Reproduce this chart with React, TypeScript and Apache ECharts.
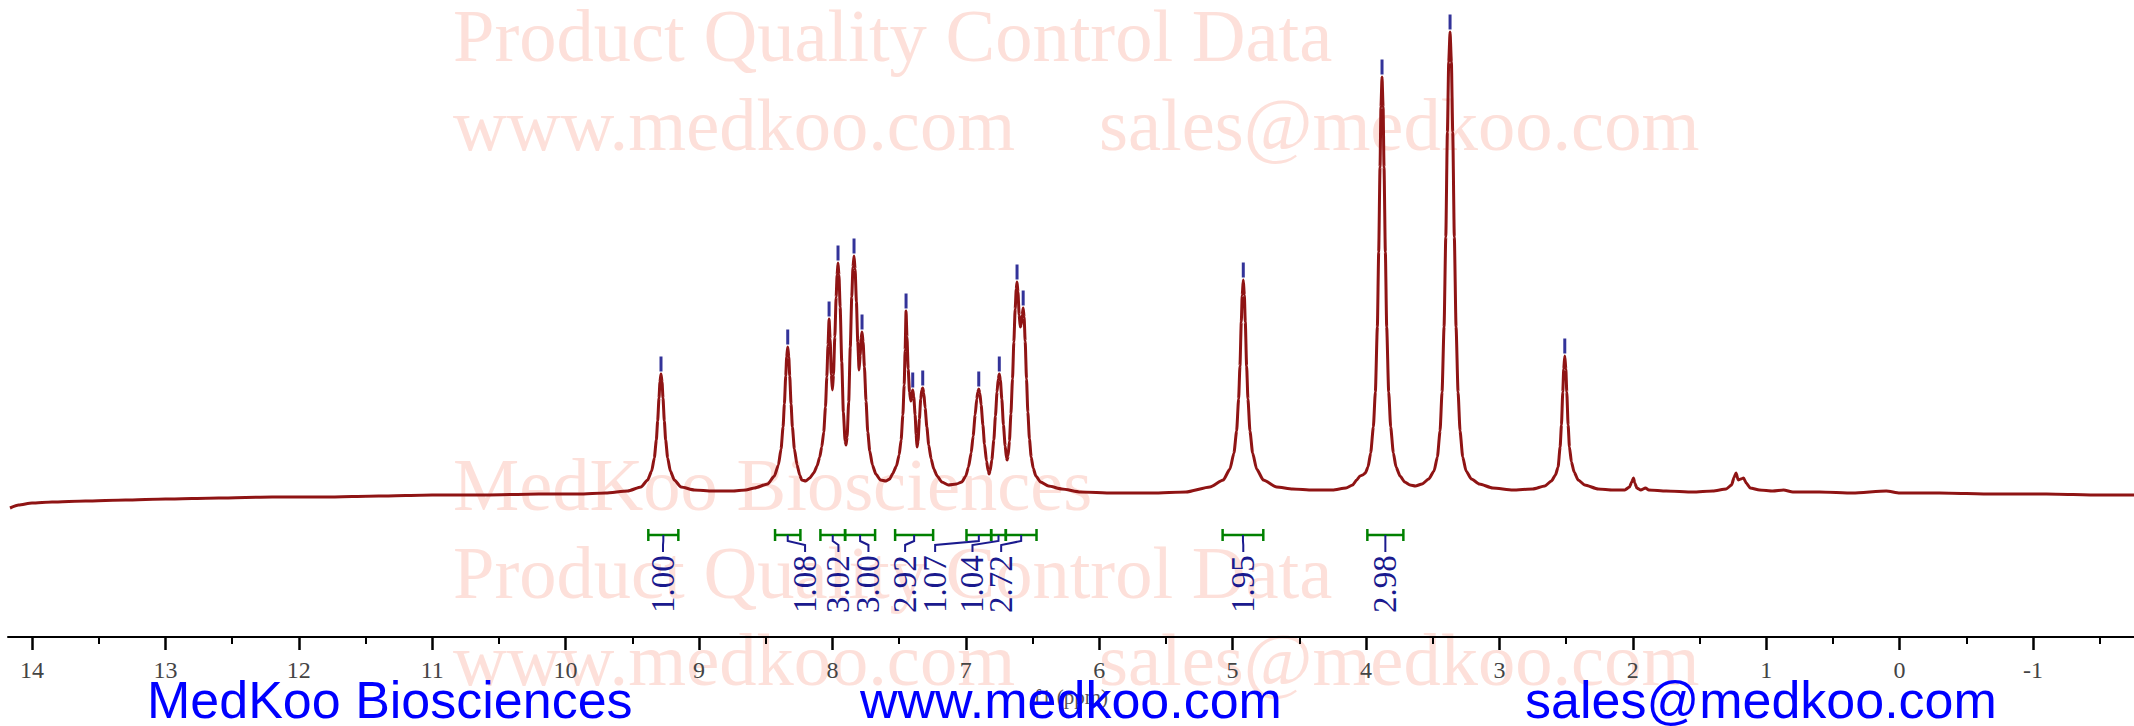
import React, { useEffect, useRef } from "react";
import * as echarts from "echarts";

// ---------- data (ppm, intensity) ----------
const baselineLeft: [number, number][] = [
  [14.165, 129], [14.1, 132], [14.0, 134], [13.85, 135], [13.6, 136], [13.3, 137], [13.0, 138],
  [12.6, 139], [12.2, 140], [11.8, 140], [11.4, 141], [11.0, 142], [10.6, 142], [10.2, 143],
  [9.9, 143], [9.7, 144], [9.535, 146],
];
const peak928: [number, number][] = [
  [9.435, 150], [9.385, 157], [9.355, 166], [9.335, 179], [9.32, 197], [9.31, 216], [9.3, 239],
  [9.293, 255], [9.285, 263], [9.277, 255], [9.27, 239], [9.26, 216], [9.25, 197], [9.235, 179],
  [9.215, 166], [9.185, 157], [9.135, 150], [9.035, 147], [8.9, 146], [8.75, 146], [8.65, 147],
];
const aromaticA: [number, number][] = [
  [8.585, 149], [8.485, 153], [8.435, 161], [8.405, 172], [8.385, 188], [8.37, 210], [8.36, 233],
  [8.35, 261], [8.343, 280], [8.335, 290], [8.327, 280], [8.32, 261], [8.31, 233], [8.3, 210],
  [8.285, 188], [8.265, 172], [8.245, 162], [8.23, 157], [8.2, 156], [8.17, 159], [8.14, 164],
  [8.115, 171], [8.095, 180], [8.08, 190], [8.065, 205], [8.052, 230], [8.042, 260], [8.033, 292],
  [8.025, 318], [8.017, 298], [8.008, 262], [8.0, 247], [7.992, 262], [7.982, 300], [7.972, 340],
  [7.965, 362], [7.958, 374], [7.951, 362], [7.942, 330], [7.93, 275], [7.918, 225], [7.905, 196],
  [7.898, 192], [7.89, 200], [7.878, 235], [7.866, 290], [7.855, 340], [7.846, 370], [7.838, 381],
  [7.83, 368], [7.82, 335], [7.81, 295], [7.8, 267], [7.792, 282], [7.785, 298], [7.778, 305],
  [7.77, 295], [7.76, 270], [7.748, 236], [7.735, 205], [7.72, 186], [7.7, 172], [7.675, 163],
  [7.64, 157], [7.6, 156], [7.57, 158],
];
const aromaticB: [number, number][] = [
  [7.55, 163], [7.52, 171], [7.5, 182], [7.485, 197], [7.472, 222], [7.462, 252], [7.455, 287],
  [7.448, 326], [7.441, 300], [7.432, 268], [7.422, 245], [7.412, 236], [7.405, 242], [7.398, 247],
  [7.39, 240], [7.38, 222], [7.372, 202], [7.366, 190], [7.358, 196], [7.348, 218], [7.338, 238],
  [7.33, 247], [7.323, 249], [7.315, 244], [7.305, 229], [7.292, 210], [7.278, 192], [7.26, 178],
  [7.24, 168], [7.215, 161], [7.18, 155], [7.13, 152], [7.07, 153],
];
const aromaticC: [number, number][] = [
  [7.03, 155], [7.0, 161], [6.98, 170], [6.96, 184], [6.945, 201], [6.93, 222], [6.918, 238],
  [6.91, 245], [6.903, 248], [6.895, 244], [6.885, 232], [6.872, 212], [6.86, 193], [6.845, 176],
  [6.832, 166], [6.826, 163], [6.818, 166], [6.805, 177], [6.79, 197], [6.778, 221], [6.766, 245],
  [6.757, 258], [6.749, 263], [6.741, 257], [6.73, 238], [6.718, 212], [6.705, 191], [6.695, 179],
  [6.69, 177], [6.683, 181], [6.673, 196], [6.662, 223], [6.65, 258], [6.64, 295], [6.63, 328],
  [6.622, 348], [6.616, 355], [6.609, 345], [6.6, 322], [6.592, 310], [6.585, 312], [6.577, 322],
  [6.57, 329], [6.563, 320], [6.555, 296], [6.545, 258], [6.535, 225], [6.523, 198], [6.51, 180],
  [6.495, 169], [6.475, 161], [6.44, 155], [6.38, 151], [6.28, 148], [6.14, 145], [5.9, 144],
  [5.6, 144], [5.35, 145],
];
const aliphatic: [number, number][] = [
  [5.17, 150], [5.07, 157], [5.02, 168], [4.99, 184], [4.97, 206], [4.955, 238], [4.945, 271],
  [4.935, 315], [4.928, 342], [4.92, 357], [4.912, 342], [4.905, 315], [4.895, 271], [4.885, 238],
  [4.87, 206], [4.85, 184], [4.82, 168], [4.77, 157], [4.67, 150], [4.55, 148], [4.4, 147],
  [4.25, 147], [4.15, 149], [4.1, 152], [4.07, 157], [4.045, 161], [4.025, 162], [4.005, 164],
  [3.985, 170], [3.965, 184], [3.945, 210], [3.93, 245], [3.915, 310], [3.905, 385], [3.895, 470],
  [3.888, 530], [3.88, 560], [3.872, 530], [3.865, 470], [3.855, 385], [3.845, 310], [3.83, 245],
  [3.815, 210], [3.795, 184], [3.775, 170], [3.745, 161], [3.71, 155], [3.67, 152], [3.63, 151],
  [3.58, 153], [3.53, 158], [3.49, 166], [3.465, 180], [3.445, 206], [3.43, 245], [3.415, 310],
  [3.402, 400], [3.39, 505], [3.38, 575], [3.37, 605], [3.36, 575], [3.35, 505], [3.338, 400],
  [3.325, 310], [3.31, 245], [3.295, 206], [3.275, 180], [3.25, 166], [3.21, 158], [3.15, 153],
  [3.05, 149], [2.9, 147], [2.75, 148],
];
const tail: [number, number][] = [
  [2.66, 151], [2.61, 156], [2.58, 162], [2.56, 170], [2.545, 190], [2.535, 212], [2.525, 245],
  [2.518, 268], [2.51, 281], [2.502, 268], [2.495, 245], [2.485, 212], [2.475, 190], [2.46, 175],
  [2.44, 165], [2.41, 157], [2.36, 152], [2.26, 148], [2.15, 147], [2.06, 147], [2.025, 150],
  [2.008, 155], [1.995, 159], [1.985, 154], [1.97, 149], [1.94, 147], [1.905, 149], [1.88, 147],
  [1.75, 146], [1.55, 145], [1.4, 146], [1.3, 148], [1.26, 152], [1.24, 160], [1.226, 164],
  [1.21, 157], [1.19, 158], [1.17, 159], [1.15, 154], [1.12, 149], [1.05, 147], [0.95, 146],
  [0.87, 147], [0.8, 145], [0.6, 145], [0.35, 144], [0.1, 146], [0.0, 144], [-0.3, 144],
  [-0.7, 143], [-1.1, 143], [-1.5, 142], [-1.757, 142],
];

// peak picks (ppm, top intensity)
const peakPicks: [number, number][] = [
  [9.285, 263], [8.335, 290], [8.025, 318], [7.958, 374], [7.838, 381], [7.778, 305],
  [7.448, 326], [7.398, 247], [7.323, 249], [6.903, 248], [6.749, 263], [6.616, 355],
  [6.57, 329], [4.92, 357], [3.88, 560], [3.37, 605], [2.51, 281],
];

// integrals
const integralFrom = [9.38, 8.43, 8.09, 7.905, 7.53, 6.995, 6.81, 6.7, 5.075, 3.99];
const integralTo = [9.155, 8.24, 7.905, 7.68, 7.245, 6.81, 6.7, 6.47, 4.77, 3.72];
const integralLabelAt = [9.27, 8.205, 7.955, 7.73, 7.455, 7.23, 6.95, 6.735, 4.92, 3.855];
const integralLabels = ["1.00", "1.08", "3.02", "3.00", "2.92", "1.07", "1.04", "2.72", "1.95", "2.98"];

// axis ticks
const majorTicks = [14, 13, 12, 11, 10, 9, 8, 7, 6, 5, 4, 3, 2, 1, 0, -1];
const minorTicks = [13.5, 12.5, 11.5, 10.5, 9.5, 8.5, 7.5, 6.5, 5.5, 4.5, 3.5, 2.5, 1.5, 0.5, -0.5, -1.5];

const X_MIN = -1.757;
const X_MAX = 14.18;

const WATER = "#FDE0DA";
const SERIF = '"Liberation Serif", "Times New Roman", serif';
const SANS = '"Liberation Sans", Arial, sans-serif';

export default function App() {
  const ref = useRef<HTMLDivElement>(null);
  useEffect(() => {
    if (!ref.current) return;
    const chart = echarts.init(ref.current, null, { renderer: "svg", width: 2134, height: 726 });
    const spectrum = [
      ...baselineLeft, ...peak928, ...aromaticA, ...aromaticB, ...aromaticC, ...aliphatic, ...tail,
    ];
    const BAR = 102, DROP = 96, BEND = 92, LTOP = 85, LMID = 53;
    const wm = (text: string, x: number, baseline: number) => ({
      type: "text", x, y: baseline - 25, z: 0,
      style: { text, fill: WATER, fontSize: 74.5, fontFamily: SERIF, verticalAlign: "middle", align: "left" },
    });
    const blue = (text: string, x: number) => ({
      type: "text", x, y: 700, z: 100,
      style: { text, fill: "#0000FF", fontSize: 52, fontFamily: SANS, verticalAlign: "middle", align: "left" },
    });
    const option: any = {
      animation: false,
      backgroundColor: "#ffffff",
      grid: { left: 8, right: 0, top: 0, bottom: 89, containLabel: false },
      xAxis: [
        {
          type: "value", min: X_MIN, max: X_MAX, inverse: true, position: "bottom",
          axisLine: { show: true, lineStyle: { color: "#000", width: 2 } },
          axisTick: { show: true, customValues: majorTicks, length: 13, lineStyle: { color: "#000", width: 2.5 } },
          axisLabel: { customValues: majorTicks, margin: 21, fontFamily: SERIF, fontSize: 24, color: "#444" },
          splitLine: { show: false },
          name: "f1 (ppm)", nameLocation: "middle", nameGap: 47,
          nameTextStyle: { fontFamily: SERIF, fontSize: 21, color: "#555" },
        },
        {
          type: "value", min: X_MIN, max: X_MAX, inverse: true, position: "bottom",
          axisLine: { show: false },
          axisTick: { show: true, customValues: minorTicks, length: 7, lineStyle: { color: "#000", width: 2 } },
          axisLabel: { show: false },
          splitLine: { show: false },
        },
      ],
      yAxis: { type: "value", min: 0, max: 637, show: false },
      graphic: [
        wm("Product Quality Control Data", 453, 61),
        wm("www.medkoo.com", 453, 150),
        wm("sales@medkoo.com", 1099, 150),
        wm("MedKoo Biosciences", 453, 510),
        wm("Product Quality Control Data", 453, 598),
        wm("www.medkoo.com", 453, 685),
        wm("sales@medkoo.com", 1099, 685),
        blue("MedKoo Biosciences", 147),
        blue("www.medkoo.com", 860),
        blue("sales@medkoo.com", 1525),
      ],
      series: [
        {
          type: "line", data: spectrum, symbol: "none", smooth: 0.2, smoothMonotone: "x", z: 5,
          lineStyle: { color: "#8f1414", width: 3 }, silent: true,
        },
        {
          type: "scatter", data: peakPicks, symbol: "rect", symbolSize: [3, 15], symbolOffset: [0, -10],
          itemStyle: { color: "#000080" }, z: 6, silent: true,
        },
        {
          type: "custom", z: 6, silent: true,
          data: integralFrom.map((f, i) => [f, integralTo[i], integralLabelAt[i]]),
          encode: { x: 0, y: 1 },
          renderItem: (params: any, api: any) => {
            const i = params.dataIndex;
            const f = api.value(0), t = api.value(1), l = api.value(2);
            const c = (f + t) / 2;
            const a = api.coord([f, BAR]);
            const b = api.coord([t, BAR]);
            const p1 = api.coord([c, BAR]);
            const p2 = api.coord([c, DROP]);
            const p3 = api.coord([l, BEND]);
            const p4 = api.coord([l, LTOP]);
            const lm = api.coord([l, LMID]);
            const green = { stroke: "#008000", lineWidth: 2.5 };
            const navy = { stroke: "#1a1a8e", lineWidth: 2, fill: null };
            return {
              type: "group",
              children: [
                { type: "line", shape: { x1: a[0], y1: a[1], x2: b[0], y2: b[1] }, style: green },
                { type: "line", shape: { x1: a[0], y1: a[1] - 6, x2: a[0], y2: a[1] + 6 }, style: green },
                { type: "line", shape: { x1: b[0], y1: b[1] - 6, x2: b[0], y2: b[1] + 6 }, style: green },
                { type: "polyline", shape: { points: [p1, p2, p3, p4] }, style: navy },
                {
                  type: "text", x: lm[0], y: lm[1], rotation: Math.PI / 2,
                  style: {
                    text: integralLabels[i], fill: "#1a1a8e", fontSize: 33, fontFamily: SERIF,
                    align: "center", verticalAlign: "middle",
                  },
                },
              ],
            };
          },
        },
      ],
    };
    chart.setOption(option);
    return () => chart.dispose();
  }, []);
  return <div ref={ref} style={{ position: "fixed", left: 0, top: 0, width: 2134, height: 726, background: "#fff" }} />;
}
